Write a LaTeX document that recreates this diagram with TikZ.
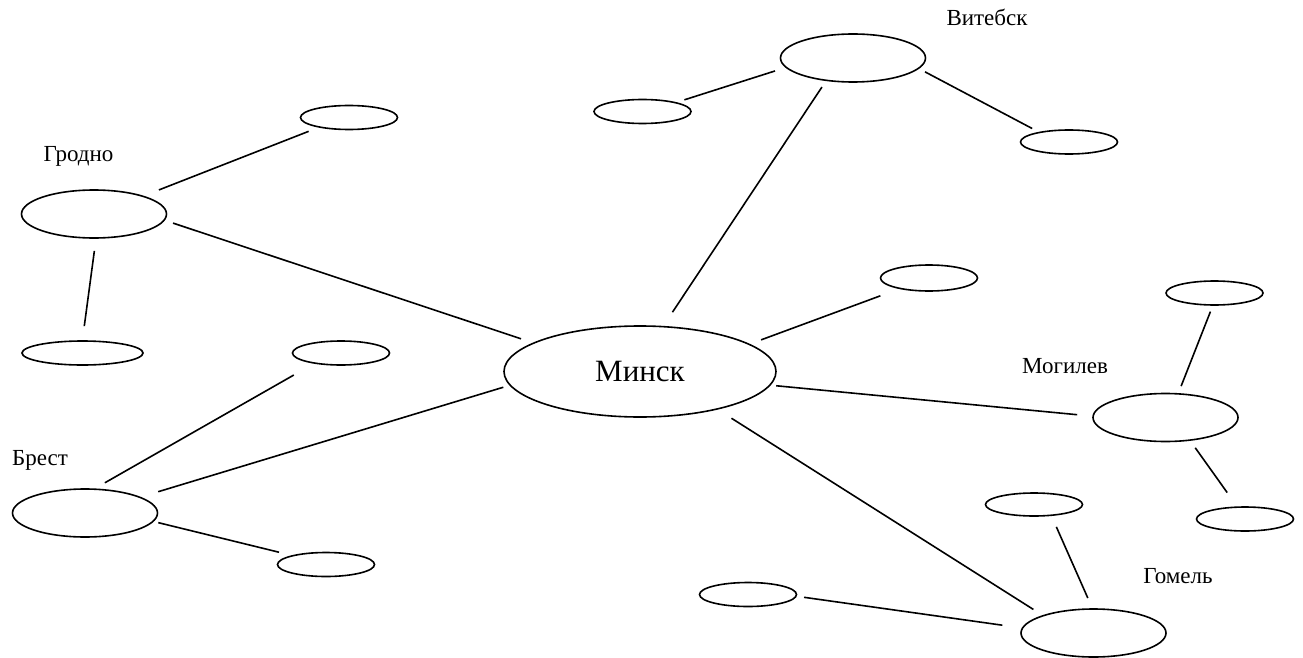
\documentclass[tikz,border=0pt]{standalone}
\usepackage{fontspec}
\setmainfont{Liberation Serif}
\usetikzlibrary{shapes.geometric}

\tikzset{
  city/.style={draw, ellipse, line width=1.6pt, inner sep=0pt, outer sep=0pt},
  big/.style={city, minimum width=145pt, minimum height=48pt},
  small/.style={city, minimum width=97pt, minimum height=24pt},
  link/.style={line width=1.6pt},
  cityname/.style={anchor=base, inner sep=0pt, font=\fontsize{23}{23}\selectfont},
}

\begin{document}
\begin{tikzpicture}[x=1pt, y=-1pt]
  \useasboundingbox[fill=white] (0,0) rectangle (1303,658);

  % centre
  \node[city, minimum width=272pt, minimum height=91pt,
        font=\fontsize{31}{31}\selectfont] (M) at (640,371.5) {Минск};

  % regional centres
  \node[big] (V)  at (853,58)      {};
  \node[big] (G)  at (94,214)      {};
  \node[big] (B)  at (85,513)      {};
  \node[big] (Mo) at (1165.5,417.5) {};
  \node[big] (Go) at (1093.5,633)  {};

  % satellites
  \node[small] (V1)  at (642.5,111.5) {};
  \node[small] (V2)  at (1069,142)    {};
  \node[small] (G1)  at (349,117.5)   {};
  \node[small, minimum width=121pt] (G2) at (82.5,353) {};
  \node[small] (B1)  at (341,353)     {};
  \node[small] (B2)  at (326,564.5)   {};
  \node[small, minimum height=26pt] (R) at (929,278) {};
  \node[small] (Mo1) at (1214.5,293)  {};
  \node[small] (Mo2) at (1245,519)    {};
  \node[small, minimum height=23pt] (Go1) at (1034,504.5) {};
  \node[small] (Go2) at (748,594.5)   {};

  % labels
  \node[cityname] (tV)  at (987,26)    {Витебск};
  \node[cityname] (tG)  at (78.5,161.7) {Гродно};
  \node[cityname] (tB)  at (40,465)    {Брест};
  \node[cityname] (tMo) at (1065,373)  {Могилев};
  \node[cityname] (tGo) at (1178,583)  {Гомель};

  % connections
  \draw[link, shorten <=13.5pt, shorten >=9.4pt]  (M.165.96) -- (G.-5.06);
  \draw[link, shorten <=17.3pt, shorten >=11.8pt] (G.20.56) -- (G1.198.23);
  \draw[link, shorten <=13pt,   shorten >=15pt]   (G.-85.36) -- (G2.91.06);
  \draw[link, shorten <=17.4pt, shorten >=8.1pt]  (M.63.63) -- (V.220.31);
  \draw[link, shorten <=11.8pt, shorten >=9.4pt]  (V.188.75) -- (V1.15.14);
  \draw[link, shorten <=7.5pt,  shorten >=8.4pt]  (V.-9.34) -- (V2.162.47);
  \draw[link, shorten <=12.8pt, shorten >=21.2pt] (M.14.15) -- (R.200.56);
  \draw[link, shorten <=6.5pt,  shorten >=16pt]   (M.-6.09) -- (Mo.179.03);
  \draw[link, shorten <=8.3pt,  shorten >=7.1pt]  (Mo.62.35) -- (Mo1.-97.5);
  \draw[link, shorten <=9.4pt,  shorten >=17.9pt] (Mo.-43.12) -- (Mo2.122.2);
  \draw[link, shorten <=17.2pt, shorten >=11.7pt] (M.-26.57) -- (Go.161.15);
  \draw[link, shorten <=12pt,   shorten >=12.7pt] (Go.92.39) -- (Go1.-32.01);
  \draw[link, shorten <=20.4pt, shorten >=8.1pt]  (Go.176.25) -- (Go2.-2.51);
  \draw[link, shorten <=7.3pt,  shorten >=19.2pt] (M.186.5) -- (B.16.05);
  \draw[link, shorten <=12.9pt, shorten >=24.1pt] (B.70.15) -- (B1.201.6);
  \draw[link, shorten <=5.5pt,  shorten >=14.5pt] (B.-7.03) -- (B2.165.4);
\end{tikzpicture}
\end{document}
